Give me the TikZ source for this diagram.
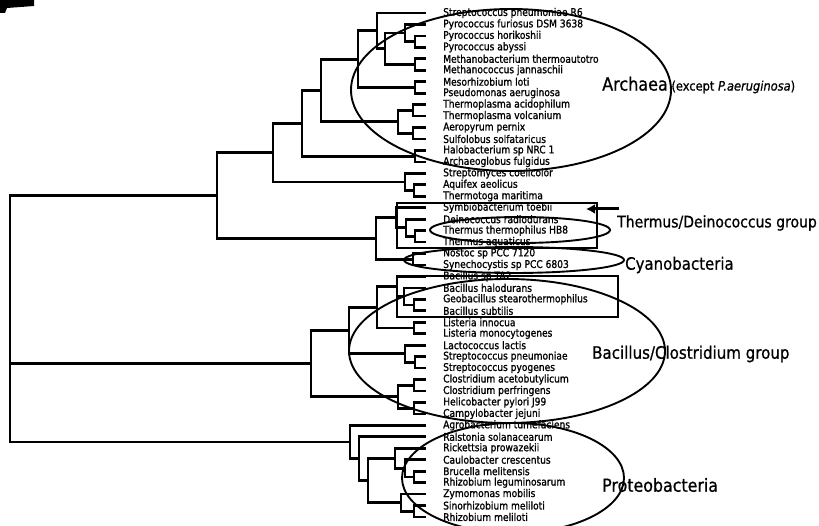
\documentclass[tikz,border=0pt]{standalone}
\usepackage{fontspec}
\newfontfamily\labfont{DejaVu Sans}[FakeStretch=0.88,FakeBold=0.8]
\newfontfamily\leaffont{DejaVu Sans}[FakeStretch=0.86,FakeBold=1.2]
\usetikzlibrary{arrows.meta}
\begin{document}
\begin{tikzpicture}[x=1pt,y=-1pt,
  branch/.style={line width=2.8pt, line join=miter, line cap=rect},
  leaf/.style={anchor=west, inner sep=0pt, font=\leaffont\fontsize{10.6}{12}\selectfont},
  grouprim/.style={line width=1.9pt},
  groupbox/.style={line width=2.4pt},
  grouplabel/.style={anchor=west, inner sep=0pt}]
\useasboundingbox (0,0) rectangle (819,526);
% scan mark top left
\fill (0,0) -- (34,0) -- (34,6) -- (7,8) -- (5,13) -- (0,13) -- cycle;
% leaves
\foreach \i/\name in {1/Streptococcus pneumoniae R6, 2/Pyrococcus furiosus DSM 3638,
 3/Pyrococcus horikoshii, 4/Pyrococcus abyssi, 5/Methanobacterium thermoautotro,
 6/Methanococcus jannaschii, 7/Mesorhizobium loti, 8/Pseudomonas aeruginosa,
 9/Thermoplasma acidophilum, 10/Thermoplasma volcanium, 11/Aeropyrum pernix,
 12/Sulfolobus solfataricus, 13/Halobacterium sp NRC 1, 14/Archaeoglobus fulgidus,
 15/Streptomyces coelicolor, 16/Aquifex aeolicus, 17/Thermotoga maritima,
 18/Symbiobacterium toebii, 19/Deinococcus radiodurans, 20/Thermus thermophilus HB8,
 21/Thermus aquaticus, 22/Nostoc sp PCC 7120, 23/Synechocystis sp PCC 6803,
 24/Bacillus sp TA2, 25/Bacillus halodurans, 26/Geobacillus stearothermophilus,
 27/Bacillus subtilis, 28/Listeria innocua, 29/Listeria monocytogenes,
 30/Lactococcus lactis, 31/Streptococcus pneumoniae, 32/Streptococcus pyogenes,
 33/Clostridium acetobutylicum, 34/Clostridium perfringens, 35/Helicobacter pylori J99,
 36/Campylobacter jejuni, 37/Agrobacterium tumefaciens, 38/Ralstonia solanacearum,
 39/Rickettsia prowazekii, 40/Caulobacter crescentus, 41/Brucella melitensis,
 42/Rhizobium leguminosarum, 43/Zymomonas mobilis, 44/Sinorhizobium meliloti,
 45/Rhizobium meliloti} {
  \pgfmathsetmacro\yy{13+(\i-1)*11.4545}
  \coordinate (t\i) at (425,\yy);
  \node[leaf] (l\i) at (443,\yy) {\name};
}
% internal nodes
\coordinate (pHA) at (415,41.64);
\coordinate (R) at (405,33.05);
\coordinate (pMM) at (415,64.55);
\coordinate (Q) at (385,48.80);
\coordinate (P) at (377,30.90);
\coordinate (pMP) at (415,87.46);
\coordinate (S) at (358,59.18);
\coordinate (pTh) at (413,110.37);
\coordinate (pAS) at (413,133.28);
\coordinate (U) at (398,121.82);
\coordinate (T) at (321,90.50);
\coordinate (pHAr) at (415,156.18);
\coordinate (V) at (302,123.34);
\coordinate (pAT) at (414,190.55);
\coordinate (SAT) at (405,181.95);
\coordinate (W) at (273,152.65);
\coordinate (pTT) at (415,236.37);
\coordinate (DT) at (406,227.77);
\coordinate (SDT) at (396,217.75);
\coordinate (pCy) at (413,259.27);
\coordinate (Z) at (376,238.51);
\coordinate (nA) at (217,195.58);
\coordinate (pGS) at (414,305.09);
\coordinate (HGS) at (404,296.50);
\coordinate (Bac) at (397,286.48);
\coordinate (pLi) at (414,328.00);
\coordinate (BL) at (377,307.24);
\coordinate (pSt) at (415,362.37);
\coordinate (LS) at (405,353.77);
\coordinate (BLS) at (349,330.51);
\coordinate (pCl) at (414,385.28);
\coordinate (pHC) at (414,408.18);
\coordinate (CH) at (398,396.73);
\coordinate (nB) at (311,363.62);
\coordinate (pBR) at (414,476.91);
\coordinate (CBR) at (405,468.32);
\coordinate (RCBR) at (395,458.30);
\coordinate (pSR) at (414,511.28);
\coordinate (ZSR) at (401,502.68);
\coordinate (C2) at (368,480.49);
\coordinate (C1) at (359,458.66);
\coordinate (nC) at (350,442.01);
\coordinate (root) at (10,318.8);
% branches
\foreach \a/\b in {pHA/t3, pHA/t4, R/t2, R/pHA, pMM/t5, pMM/t6, Q/R, Q/pMM,
  P/t1, P/Q, pMP/t7, pMP/t8, S/P, S/pMP, pTh/t9, pTh/t10, pAS/t11, pAS/t12,
  U/pTh, U/pAS, T/S, T/U, pHAr/t13, pHAr/t14, V/T, V/pHAr, pAT/t16, pAT/t17,
  SAT/t15, SAT/pAT, W/V, W/SAT, pTT/t20, pTT/t21, DT/t19, DT/pTT, SDT/t18, SDT/DT,
  pCy/t22, pCy/t23, Z/SDT, Z/pCy, nA/W, nA/Z,
  pGS/t26, pGS/t27, HGS/t25, HGS/pGS, Bac/t24, Bac/HGS, pLi/t28, pLi/t29,
  BL/Bac, BL/pLi, pSt/t31, pSt/t32, LS/t30, LS/pSt, BLS/BL, BLS/LS,
  pCl/t33, pCl/t34, pHC/t35, pHC/t36, CH/pCl, CH/pHC, nB/BLS, nB/CH,
  pBR/t41, pBR/t42, CBR/t40, CBR/pBR, RCBR/t39, RCBR/CBR, pSR/t44, pSR/t45,
  ZSR/t43, ZSR/pSR, C2/RCBR, C2/ZSR, C1/t38, C1/C2, nC/t37, nC/C1,
  root/nA, root/nB, root/nC}
  \draw[branch] (\a) |- (\b);
% group outlines
\draw[grouprim] (511,90) ellipse [x radius=160pt, y radius=81pt];
\draw[grouprim] (520,230) ellipse [x radius=90pt, y radius=13pt];
\draw[grouprim] (514,260) ellipse [x radius=110pt, y radius=13pt];
\draw[grouprim] (507,351) ellipse [x radius=158pt, y radius=72pt];
\draw[grouprim] (513,478) ellipse [x radius=111pt, y radius=55pt];
\draw[groupbox] (397,203) rectangle (597,248);
\draw[groupbox] (397,276) rectangle (618,317);
% arrow
\coordinate (arrTail) at (619,209);
\coordinate (arrHead) at (586,209);
\draw[line width=3pt, -{Latex[length=9pt,width=10pt]}] (arrTail) -- (arrHead);
% group labels
\node[grouplabel] (archaea) at (602,85) {\labfont\fontsize{18.2}{20}\selectfont Archaea\fontsize{13}{15}\selectfont\ (except \textit{P.aeruginosa})};
\node[grouplabel] (thermus) at (617,223) {\labfont\fontsize{15.9}{18}\selectfont Thermus/Deinococcus group};
\node[grouplabel] (cyano) at (625,265) {\labfont\fontsize{17}{19}\selectfont Cyanobacteria};
\node[grouplabel] (bacillus) at (592,354) {\labfont\fontsize{17.1}{19}\selectfont Bacillus/Clostridium group};
\node[grouplabel] (proteo) at (602,485) {\labfont\fontsize{18}{20}\selectfont Proteobacteria};
\end{tikzpicture}
\end{document}
